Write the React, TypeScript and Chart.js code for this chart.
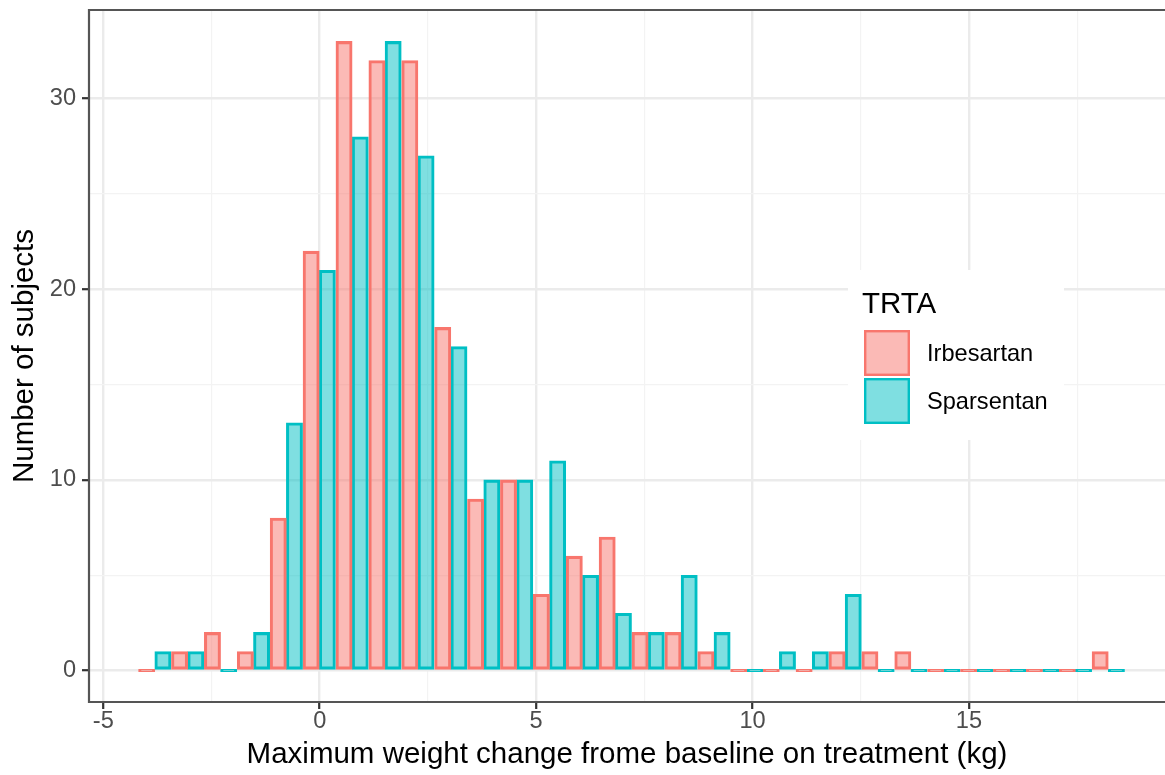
import React, { useEffect, useRef } from "react";
import { Chart, registerables } from "chart.js";

Chart.register(...registerables);

// ---- data ----
const binCenters = [
  -3.81, -3.05, -2.29, -1.53, -0.77, -0.01, 0.75, 1.51, 2.27, 3.03,
  3.79, 4.55, 5.31, 6.07, 6.83, 7.59, 8.35, 9.11, 9.87, 10.62,
  11.38, 12.14, 12.9, 13.66, 14.42, 15.18, 15.94, 16.7, 17.46, 18.22,
];
const irbesartanCounts = [
  0, 1, 2, 1, 8, 22, 33, 32, 32, 18,
  9, 10, 4, 6, 7, 2, 2, 1, 0, 0,
  0, 1, 1, 1, 0, 0, 0, 0, 0, 1,
];
const sparsentanCounts = [
  1, 1, 0, 2, 13, 21, 28, 33, 27, 17,
  10, 10, 11, 5, 3, 2, 5, 2, 0, 1,
  1, 4, 0, 0, 0, 0, 0, 0, 0, 0,
];
const seriesNames = ["Irbesartan", "Sparsentan"];
const legendTitle = "TRTA";
const xMajorTicks = [-5, 0, 5, 10, 15];
const xMinorTicks = [-2.5, 2.5, 7.5, 12.5, 17.5];
const yMajorTicks = [0, 10, 20, 30];
const yMinorTicks = [5, 15, 25];
const xTitle = "Maximum weight change frome baseline on treatment (kg)";
const yTitle = "Number of subjects";

const FONT = "'Liberation Sans', Arial, Helvetica, sans-serif";
const RED = "#F8766D";
const RED_FILL = "rgba(248,118,109,0.5)";
const TEAL = "#00BFC4";
const TEAL_FILL = "rgba(0,191,196,0.5)";

const isIn = (arr: number[], v: number) => arr.some((a) => Math.abs(a - v) < 1e-9);

const framePlugin = {
  id: "ggframe",
  afterDatasetsDraw(chart: any) {
    const { ctx } = chart;
    ctx.save();
    // legend box
    ctx.fillStyle = "#FFFFFF";
    ctx.fillRect(848, 270, 216, 170);
    ctx.fillStyle = "#000000";
    ctx.textAlign = "left";
    ctx.textBaseline = "alphabetic";
    ctx.font = `29.5px ${FONT}`;
    ctx.fillText(legendTitle, 862, 313);
    const keys = [
      { fill: RED_FILL, stroke: RED, y: 330 },
      { fill: TEAL_FILL, stroke: TEAL, y: 378 },
    ];
    keys.forEach((k, i) => {
      ctx.fillStyle = k.fill;
      ctx.fillRect(864, k.y, 46, 46);
      ctx.strokeStyle = k.stroke;
      ctx.lineWidth = 2.4;
      ctx.strokeRect(865.2, k.y + 1.2, 43.6, 43.6);
      ctx.fillStyle = "#000000";
      ctx.font = `23.6px ${FONT}`;
      ctx.textBaseline = "middle";
      ctx.fillText(seriesNames[i], 927, k.y + 24);
    });
    ctx.restore();
  },
  afterDraw(chart: any) {
    const { ctx, chartArea: a } = chart;
    ctx.save();
    ctx.strokeStyle = "#555555";
    ctx.lineWidth = 2.2;
    ctx.beginPath();
    ctx.moveTo(a.right + 5, a.top);
    ctx.lineTo(a.left, a.top);
    ctx.lineTo(a.left, a.bottom);
    ctx.lineTo(a.right + 5, a.bottom);
    ctx.stroke();
    ctx.restore();
  },
};

export default function App() {
  const canvasRef = useRef<HTMLCanvasElement | null>(null);

  useEffect(() => {
    if (!canvasRef.current) return;
    const makeData = (counts: number[]) =>
      binCenters.map((x, i) => ({ x, y: counts[i] }));

    const chart = new Chart(canvasRef.current, {
      type: "bar",
      data: {
        datasets: [
          {
            label: seriesNames[0],
            data: makeData(irbesartanCounts),
            backgroundColor: RED_FILL,
            borderColor: RED,
            borderWidth: 2.4,
            borderSkipped: false,
            minBarLength: 2.4,
            categoryPercentage: 1,
            barPercentage: 1,
          },
          {
            label: seriesNames[1],
            data: makeData(sparsentanCounts),
            backgroundColor: TEAL_FILL,
            borderColor: TEAL,
            borderWidth: 2.4,
            borderSkipped: false,
            minBarLength: 2.4,
            categoryPercentage: 1,
            barPercentage: 1,
          },
        ],
      } as any,
      options: {
        animation: false,
        responsive: true,
        maintainAspectRatio: false,
        layout: { padding: { top: 10, left: 0, right: 0, bottom: 0 } },
        plugins: {
          legend: { display: false },
          tooltip: { enabled: false },
        },
        scales: {
          x: {
            type: "linear",
            min: -5.33,
            max: 19.53,
            offset: false,
            border: { display: false },
            grid: {
              offset: false,
              color: (c: any) =>
                c.tick && isIn(xMajorTicks, c.tick.value) ? "#EBEBEB" : "#F3F3F3",
              lineWidth: (c: any) =>
                c.tick && isIn(xMajorTicks, c.tick.value) ? 2.4 : 1.2,
              tickColor: (c: any) =>
                c.tick && isIn(xMajorTicks, c.tick.value) ? "#333333" : "rgba(0,0,0,0)",
              tickLength: 7,
              tickWidth: 2.2,
            },
            afterBuildTicks: (scale: any) => {
              scale.ticks = [...xMajorTicks, ...xMinorTicks]
                .sort((p, q) => p - q)
                .map((v) => ({ value: v }));
            },
            afterFit: (scale: any) => {
              scale.height = 73;
              scale.paddingLeft = 0;
              scale.paddingRight = 0;
            },
            ticks: {
              autoSkip: false,
              maxRotation: 0,
              padding: 1,
              color: "#4D4D4D",
              font: { family: FONT, size: 23.6, lineHeight: 1 },
              callback: (v: any) => (isIn(xMajorTicks, Number(v)) ? String(v) : ""),
            },
            title: {
              display: true,
              text: xTitle,
              color: "#000000",
              font: { family: FONT, size: 29.5, lineHeight: 1.2 },
              padding: { top: 0, bottom: 2 },
            },
          },
          y: {
            type: "linear",
            min: -1.65,
            max: 34.65,
            border: { display: false },
            grid: {
              color: (c: any) =>
                c.tick && isIn(yMajorTicks, c.tick.value) ? "#EBEBEB" : "#F3F3F3",
              lineWidth: (c: any) =>
                c.tick && isIn(yMajorTicks, c.tick.value) ? 2.4 : 1.2,
              tickColor: (c: any) =>
                c.tick && isIn(yMajorTicks, c.tick.value) ? "#333333" : "rgba(0,0,0,0)",
              tickLength: 7,
              tickWidth: 2.2,
            },
            afterBuildTicks: (scale: any) => {
              scale.ticks = [...yMajorTicks, ...yMinorTicks]
                .sort((p, q) => p - q)
                .map((v) => ({ value: v }));
            },
            afterFit: (scale: any) => {
              scale.width = 89;
              scale.paddingTop = 0;
              scale.paddingBottom = 0;
            },
            ticks: {
              autoSkip: false,
              padding: 6,
              color: "#4D4D4D",
              font: { family: FONT, size: 23.6, lineHeight: 1 },
              callback: (v: any) => (isIn(yMajorTicks, Number(v)) ? String(v) : ""),
            },
            title: {
              display: true,
              text: yTitle,
              color: "#000000",
              font: { family: FONT, size: 29.5, lineHeight: 1.2 },
              padding: { top: 7, bottom: 0 },
            },
          },
        },
      } as any,
      plugins: [framePlugin],
    });
    return () => chart.destroy();
  }, []);

  return (
    <div
      style={{
        position: "fixed",
        left: 0,
        top: 0,
        width: 1165,
        height: 775,
        background: "#FFFFFF",
      }}
    >
      <canvas ref={canvasRef} />
    </div>
  );
}
